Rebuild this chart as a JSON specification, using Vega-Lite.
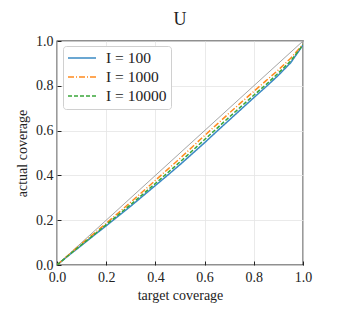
{
  "$schema": "https://vega.github.io/schema/vega-lite/v6.json",
  "width": 246,
  "height": 224,
  "autosize": {"type": "none"},
  "padding": {"left": 57, "top": 41, "right": 38, "bottom": 66},
  "title": {"text": "U", "font": "Liberation Serif", "fontSize": 18, "fontWeight": "normal", "color": "#222", "offset": 5},
  "config": {
    "view": {"stroke": "#222", "strokeWidth": 1.3},
    "axis": {
      "domain": false,
      "grid": true,
      "gridColor": "#e4e4e4",
      "gridWidth": 0.8,
      "tickSize": -4,
      "tickColor": "#222",
      "labelFont": "Liberation Serif",
      "labelFontSize": 14,
      "labelColor": "#222",
      "labelFlush": false,
      "titleFont": "Liberation Serif",
      "titleFontSize": 14,
      "titleFontWeight": "normal",
      "titleColor": "#222",
      "labelPadding": 9
    }
  },
  "datasets": {
    "diag": [{"x": 0, "y": 0}, {"x": 1, "y": 1}],
    "curves": [
      {"s": "I = 100", "x": 0.0, "y": 0.0},
      {"s": "I = 100", "x": 0.05, "y": 0.045},
      {"s": "I = 100", "x": 0.1, "y": 0.088},
      {"s": "I = 100", "x": 0.15, "y": 0.132},
      {"s": "I = 100", "x": 0.2, "y": 0.175},
      {"s": "I = 100", "x": 0.25, "y": 0.219},
      {"s": "I = 100", "x": 0.3, "y": 0.263},
      {"s": "I = 100", "x": 0.35, "y": 0.309},
      {"s": "I = 100", "x": 0.4, "y": 0.355},
      {"s": "I = 100", "x": 0.45, "y": 0.401},
      {"s": "I = 100", "x": 0.5, "y": 0.448},
      {"s": "I = 100", "x": 0.55, "y": 0.497},
      {"s": "I = 100", "x": 0.6, "y": 0.546},
      {"s": "I = 100", "x": 0.65, "y": 0.597},
      {"s": "I = 100", "x": 0.7, "y": 0.647},
      {"s": "I = 100", "x": 0.75, "y": 0.697},
      {"s": "I = 100", "x": 0.8, "y": 0.747},
      {"s": "I = 100", "x": 0.85, "y": 0.796},
      {"s": "I = 100", "x": 0.9, "y": 0.847},
      {"s": "I = 100", "x": 0.95, "y": 0.903},
      {"s": "I = 100", "x": 1.0, "y": 0.982},
      {"s": "I = 1000", "x": 0.0, "y": 0.0},
      {"s": "I = 1000", "x": 0.05, "y": 0.048},
      {"s": "I = 1000", "x": 0.1, "y": 0.095},
      {"s": "I = 1000", "x": 0.15, "y": 0.14},
      {"s": "I = 1000", "x": 0.2, "y": 0.186},
      {"s": "I = 1000", "x": 0.25, "y": 0.233},
      {"s": "I = 1000", "x": 0.3, "y": 0.281},
      {"s": "I = 1000", "x": 0.35, "y": 0.329},
      {"s": "I = 1000", "x": 0.4, "y": 0.378},
      {"s": "I = 1000", "x": 0.45, "y": 0.427},
      {"s": "I = 1000", "x": 0.5, "y": 0.476},
      {"s": "I = 1000", "x": 0.55, "y": 0.527},
      {"s": "I = 1000", "x": 0.6, "y": 0.578},
      {"s": "I = 1000", "x": 0.65, "y": 0.628},
      {"s": "I = 1000", "x": 0.7, "y": 0.678},
      {"s": "I = 1000", "x": 0.75, "y": 0.727},
      {"s": "I = 1000", "x": 0.8, "y": 0.775},
      {"s": "I = 1000", "x": 0.85, "y": 0.823},
      {"s": "I = 1000", "x": 0.9, "y": 0.871},
      {"s": "I = 1000", "x": 0.95, "y": 0.923},
      {"s": "I = 1000", "x": 1.0, "y": 0.985},
      {"s": "I = 10000", "x": 0.0, "y": 0.0},
      {"s": "I = 10000", "x": 0.05, "y": 0.046},
      {"s": "I = 10000", "x": 0.1, "y": 0.091},
      {"s": "I = 10000", "x": 0.15, "y": 0.135},
      {"s": "I = 10000", "x": 0.2, "y": 0.18},
      {"s": "I = 10000", "x": 0.25, "y": 0.225},
      {"s": "I = 10000", "x": 0.3, "y": 0.27},
      {"s": "I = 10000", "x": 0.35, "y": 0.317},
      {"s": "I = 10000", "x": 0.4, "y": 0.364},
      {"s": "I = 10000", "x": 0.45, "y": 0.412},
      {"s": "I = 10000", "x": 0.5, "y": 0.46},
      {"s": "I = 10000", "x": 0.55, "y": 0.51},
      {"s": "I = 10000", "x": 0.6, "y": 0.56},
      {"s": "I = 10000", "x": 0.65, "y": 0.61},
      {"s": "I = 10000", "x": 0.7, "y": 0.66},
      {"s": "I = 10000", "x": 0.75, "y": 0.709},
      {"s": "I = 10000", "x": 0.8, "y": 0.758},
      {"s": "I = 10000", "x": 0.85, "y": 0.806},
      {"s": "I = 10000", "x": 0.9, "y": 0.857},
      {"s": "I = 10000", "x": 0.95, "y": 0.911},
      {"s": "I = 10000", "x": 1.0, "y": 0.983}
    ]
  },
  "layer": [
    {
      "data": {"name": "diag"},
      "mark": {"type": "line", "color": "#9a9a9a", "strokeWidth": 0.9, "clip": true},
      "encoding": {
        "x": {"field": "x", "type": "quantitative", "scale": {"domain": [0, 1], "nice": false},
              "axis": {"values": [0, 0.2, 0.4, 0.6, 0.8, 1.0], "format": ".1f", "title": "target coverage", "titlePadding": 4}},
        "y": {"field": "y", "type": "quantitative", "scale": {"domain": [0, 1], "nice": false},
              "axis": {"values": [0, 0.2, 0.4, 0.6, 0.8, 1.0], "format": ".1f", "title": "actual coverage", "titlePadding": 6, "labelPadding": 8}}
      }
    },
    {
      "data": {"name": "curves"},
      "mark": {"type": "line", "strokeWidth": 1.5, "clip": true},
      "encoding": {
        "x": {"field": "x", "type": "quantitative"},
        "y": {"field": "y", "type": "quantitative"},
        "color": {
          "field": "s", "type": "nominal",
          "scale": {"domain": ["I = 100", "I = 1000", "I = 10000"], "range": ["#3b8ac4", "#ff8a1e", "#3aa63a"]},
          "legend": {
            "title": null, "orient": "none", "legendX": 6, "legendY": 5,
            "symbolType": "M-1,0H3", "symbolSize": 196, "symbolStrokeWidth": 1.6,
            "symbolFillColor": "transparent",
            "labelFont": "Liberation Serif", "labelFontSize": 15.5, "labelColor": "#222",
            "fillColor": "white", "strokeColor": "#d0d0d0", "cornerRadius": 3,
            "padding": 4, "rowPadding": 2, "labelOffset": 23
          }
        },
        "strokeDash": {
          "field": "s", "type": "nominal",
          "scale": {"domain": ["I = 100", "I = 1000", "I = 10000"], "range": [[1, 0], [6, 2, 1, 2], [4, 2]]},
          "legend": null
        }
      }
    }
  ]
}
